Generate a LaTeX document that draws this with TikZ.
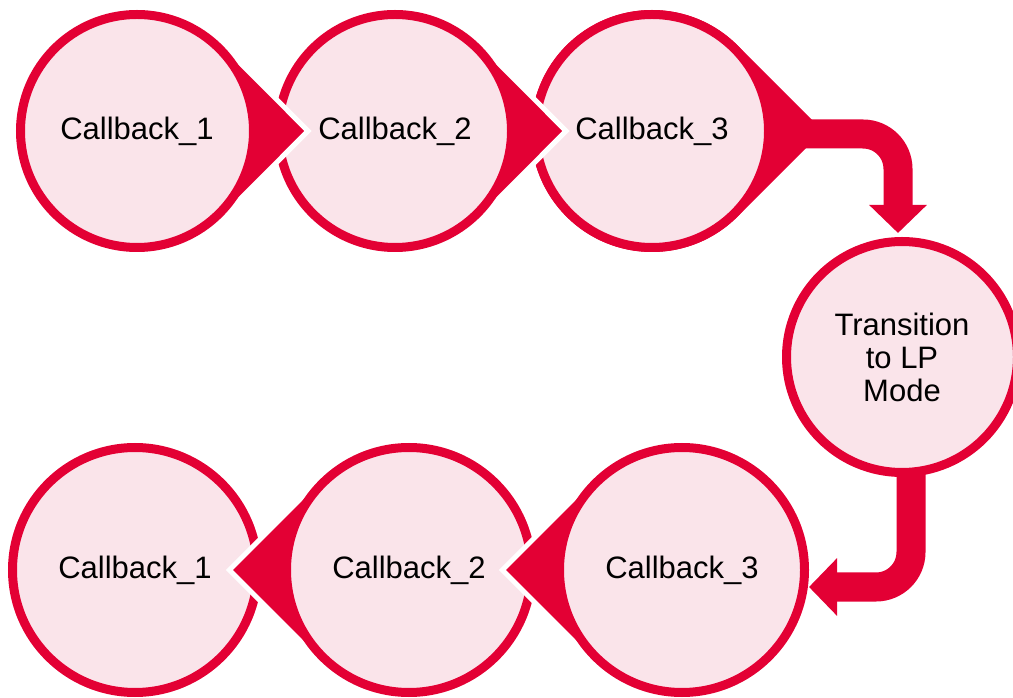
\documentclass[tikz,border=0pt]{standalone}
\usepackage{fontspec}
\setmainfont{Liberation Sans}
\usetikzlibrary{calc,arrows.meta,positioning}
\definecolor{lpred}{RGB}{227,0,52}
\definecolor{lppink}{RGB}{250,228,234}
\tikzset{
  callback/.style={
    circle,
    fill=lppink,
    draw=lpred, line width=9pt,
    minimum size=233pt,
    inner sep=0pt,
    align=center,
    font=\fontsize{31}{33}\selectfont},
  lower/.style={callback, minimum size=245pt},
  drop/.style={fill=lpred, draw=white, line width=5pt},
  flow/.style={draw=lpred, line width=29pt, rounded corners=35pt,
    -{Triangle[width=56pt,length=28pt]}},
}

\begin{document}
\begin{tikzpicture}[x=1pt, y=1pt]
	\useasboundingbox (0,0) rectangle (1013,697);
	% circle centres
	\coordinate (c1) at (137,566);
	\coordinate (c2) at (395,566);
	\coordinate (c3) at (652,566);
	\coordinate (b1) at (135,127);
	\coordinate (b2) at (409,127);
	\coordinate (b3) at (682,127);

	% upper row, right to left so each point lies on top of the next circle
	\path[drop, draw=none] ($(c3)+(171,0)$) -- ($(c3)+(45:121)$) arc[start angle=45, end angle=315, radius=121] -- cycle;
	\node[callback] (cb3) at (c3) {Callback\_3};
	\path[drop] ($(c2)+(171,0)$) -- ($(c2)+(45:121)$) arc[start angle=45, end angle=315, radius=121] -- cycle;
	\node[callback] (cb2) at (c2) {Callback\_2};
	\path[drop] ($(c1)+(171,0)$) -- ($(c1)+(45:121)$) arc[start angle=45, end angle=315, radius=121] -- cycle;
	\node[callback] (cb1) at (c1) {Callback\_1};

	\node[callback, minimum size=231pt] (lp) at (902,340) {Transition\\to LP\\Mode};

	% lower row, left to right
	\node[lower] (lcb1) at (b1) {Callback\_1};
	\path[drop] ($(b2)+(-179.6,0)$) -- ($(b2)+(225:127)$) arc[start angle=225, end angle=495, radius=127] -- cycle;
	\node[lower] (lcb2) at (b2) {Callback\_2};
	\path[drop] ($(b3)+(-179.6,0)$) -- ($(b3)+(225:127)$) arc[start angle=225, end angle=495, radius=127] -- cycle;
	\node[lower] (lcb3) at (b3) {Callback\_3};

	% bent arrows through the low power step
	\draw[flow, shorten >=4pt] ([yshift=-3]cb3.east) -| ([xshift=-4]lp.north);
	\draw[flow] ([xshift=9, yshift=5]lp.south) |- ([yshift=-17]lcb3.east);
\end{tikzpicture}
\end{document}
